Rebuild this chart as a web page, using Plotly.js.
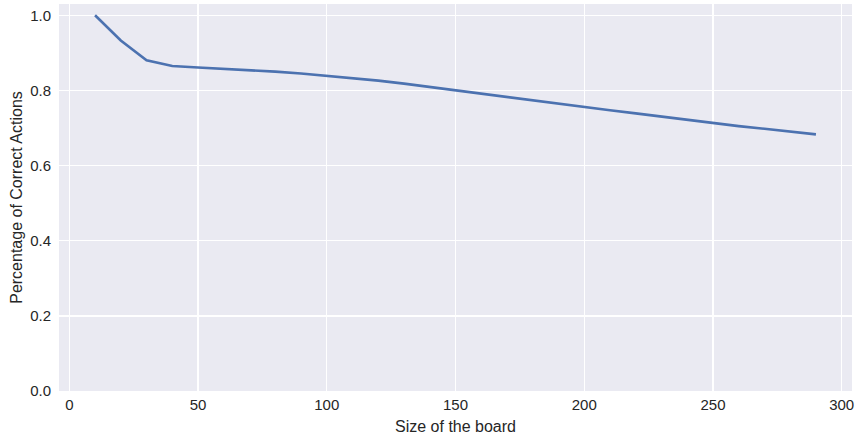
<!DOCTYPE html>
<html>
<head>
<meta charset="utf-8">
<script src="https://cdn.plot.ly/plotly-3.0.1.min.js"></script>
<style>html,body{margin:0;padding:0;background:#fff;}#chart{width:867px;height:437px;}</style>
</head>
<body>
<div id="chart"></div>
<script>
const boardSizes = [10, 20, 30, 40, 50, 60, 70, 80, 90, 100, 110, 120, 130, 140, 150,
  160, 170, 180, 190, 200, 210, 220, 230, 240, 250, 260, 270, 280, 290];
const correctPct = [1.000, 0.933, 0.880, 0.865, 0.861, 0.858, 0.855, 0.850, 0.845, 0.839,
  0.832, 0.826, 0.818, 0.809, 0.801, 0.792, 0.783, 0.774, 0.764, 0.756,
  0.747, 0.739, 0.730, 0.722, 0.713, 0.705, 0.698, 0.690, 0.683];
const xTicks = [0, 50, 100, 150, 200, 250, 300];
const yTicks = [0.0, 0.2, 0.4, 0.6, 0.8, 1.0];
const yTickText = ["0.0", "0.2", "0.4", "0.6", "0.8", "1.0"];

const font = 'Liberation Sans, Arial, sans-serif';
const trace = {
  x: boardSizes, y: correctPct, type: 'scatter', mode: 'lines',
  line: {color: '#4C72B0', width: 2.6}, hoverinfo: 'skip'
};
const layout = {
  width: 867, height: 437,
  margin: {l: 59, r: 15, t: 4, b: 46},
  paper_bgcolor: '#ffffff', plot_bgcolor: '#EAEAF2',
  showlegend: false,
  font: {family: font, size: 15, color: '#262626'},
  xaxis: {
    range: [-4, 304], tickvals: xTicks, ticktext: xTicks.map(String),
    showgrid: true, gridcolor: '#ffffff', gridwidth: 1.4,
    zeroline: false, showline: false, ticks: '', ticklabelstandoff: 3,
    tickfont: {family: font, size: 15, color: '#262626'},
    title: {text: 'Size of the board', font: {family: font, size: 16, color: '#262626'}, standoff: 8}
  },
  yaxis: {
    range: [0, 1.03], tickvals: yTicks, ticktext: yTickText,
    showgrid: true, gridcolor: '#ffffff', gridwidth: 1.4,
    zeroline: false, showline: false, ticks: '', ticklabelstandoff: 7,
    tickfont: {family: font, size: 15, color: '#262626'},
    title: {text: 'Percentage of Correct Actions', font: {family: font, size: 16, color: '#262626'}, standoff: 3}
  }
};
Plotly.newPlot('chart', [trace], layout, {staticPlot: true, displayModeBar: false});
</script>
</body>
</html>
